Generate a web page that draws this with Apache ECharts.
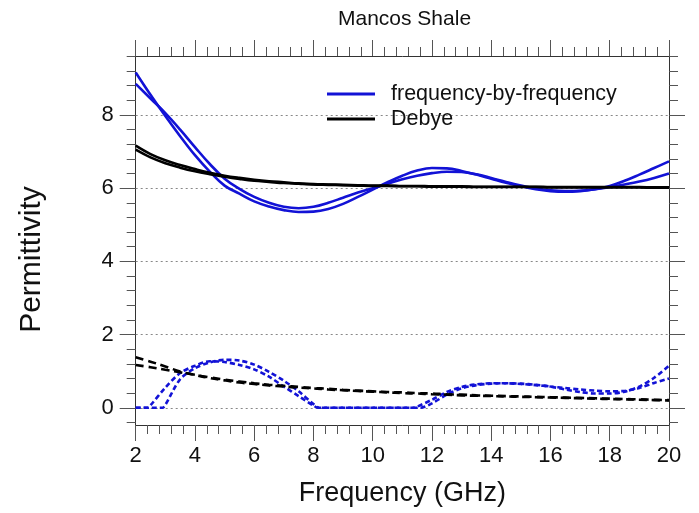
<!DOCTYPE html>
<html>
<head>
<meta charset="utf-8">
<script src="https://cdn.jsdelivr.net/npm/echarts@6/dist/echarts.min.js"></script>
<style>html,body{margin:0;padding:0;background:#fff;}#c{width:699px;height:513px;}</style>
</head>
<body>
<div id="c"></div>
<script>
// frequency grid (GHz)
var freq = [2,2.5,3,3.5,4,4.5,5,5.5,6,6.5,7,7.5,8,8.5,9,9.5,10,10.5,11,11.5,12,12.5,13,13.5,14,14.5,15,15.5,16,16.5,17,17.5,18,18.5,19,19.5,20];
// frequency-by-frequency, real part (two curves)
var fbfRealA = [9.16,8.55,7.97,7.42,6.9,6.45,6.07,5.85,5.64,5.5,5.4,5.35,5.36,5.43,5.57,5.76,5.96,6.16,6.34,6.48,6.55,6.54,6.47,6.37,6.26,6.15,6.05,5.97,5.92,5.9,5.92,5.97,6.06,6.2,6.37,6.55,6.73];
var fbfRealB = [8.85,8.45,8.05,7.6,7.12,6.66,6.26,5.98,5.76,5.6,5.49,5.45,5.49,5.6,5.74,5.88,6.0,6.12,6.24,6.34,6.41,6.45,6.44,6.38,6.28,6.17,6.07,5.99,5.94,5.92,5.93,5.97,6.03,6.1,6.18,6.28,6.4];
// Debye, real part (two curves)
var debyeRealA = [7.16,6.93,6.76,6.63,6.52,6.42,6.34,6.28,6.23,6.19,6.16,6.13,6.11,6.1,6.09,6.08,6.07,6.07,6.06,6.06,6.05,6.05,6.05,6.04,6.04,6.04,6.04,6.04,6.03,6.03,6.03,6.03,6.03,6.03,6.03,6.02,6.02];
var debyeRealB = [7.05,6.84,6.68,6.56,6.46,6.38,6.31,6.25,6.2,6.17,6.14,6.12,6.1,6.09,6.08,6.07,6.06,6.06,6.05,6.05,6.04,6.04,6.04,6.03,6.03,6.03,6.03,6.03,6.02,6.02,6.02,6.02,6.02,6.02,6.02,6.01,6.01];
// Debye, imaginary part (two curves)
var debyeImagA = [1.38,1.26,1.13,0.99,0.9,0.81,0.75,0.69,0.65,0.61,0.58,0.55,0.53,0.5,0.48,0.46,0.44,0.42,0.4,0.39,0.37,0.36,0.34,0.33,0.32,0.31,0.3,0.29,0.28,0.27,0.26,0.25,0.24,0.23,0.22,0.21,0.2];
var debyeImagB = [1.17,1.11,1.04,0.97,0.9,0.83,0.77,0.72,0.67,0.63,0.6,0.57,0.54,0.52,0.49,0.47,0.45,0.43,0.42,0.4,0.39,0.37,0.36,0.34,0.33,0.32,0.31,0.3,0.29,0.28,0.27,0.26,0.25,0.24,0.23,0.22,0.21];
// frequency-by-frequency, imaginary part (two curves, own frequency samples)
var fbfImagFreqA = [2,2.4,2.5,3,3.5,4,4.5,5,5.5,6,6.5,7,7.5,8,8.15,9,10,11,11.4,11.5,12,12.5,13,13.5,14,14.5,15,15.5,16,16.5,17,17.5,18,18.5,19,19.5,20];
var fbfImagA = [0,0,0.07,0.55,0.95,1.15,1.27,1.25,1.17,1.05,0.85,0.58,0.32,0.06,0,0,0,0,0,0.03,0.22,0.43,0.57,0.64,0.67,0.67,0.65,0.62,0.58,0.54,0.5,0.47,0.45,0.46,0.54,0.68,0.8];
var fbfImagFreqB = [2,2.9,3,3.5,4,4.5,5,5.5,6,6.5,7,7.5,8,8.2,9,10,11,11.6,12,12.5,13,13.5,14,14.5,15,15.5,16,16.5,17,17.5,18,18.5,19,19.5,20];
var fbfImagB = [0,0,0.08,0.78,1.08,1.24,1.31,1.29,1.18,0.98,0.74,0.45,0.1,0,0,0,0,0,0.12,0.36,0.53,0.62,0.66,0.67,0.66,0.63,0.58,0.5,0.43,0.39,0.39,0.44,0.58,0.82,1.15];
// axis ticks
var yMajorTicks = [0,2,4,6,8];
var yMinorTicks = [-0.4,0,0.4,0.8,1.2,1.6,2,2.4,2.8,3.2,3.6,4,4.4,4.8,5.2,5.6,6,6.4,6.8,7.2,7.6,8,8.4,8.8,9.2,9.6];

function pairs(xs, ys){ var o=[]; for(var i=0;i<xs.length;i++) o.push([xs[i], ys[i]]); return o; }

var BLUE = '#1212d6', BLACK = '#000000';
var FONT = 'Liberation Sans';
var axisLineStyle = {color:'#333', width:1};
var tickStyle = {color:'#555', width:1};

function xAx(pos, labels){
  return {
    type:'value', position:pos, min:2, max:20, interval:2,
    axisLine:{show:true, onZero:false, lineStyle:axisLineStyle},
    axisTick:{show:true, inside:false, length:16, lineStyle:tickStyle},
    minorTick:{show:true, splitNumber:5, length:9, lineStyle:tickStyle},
    splitLine:{show:false},
    axisLabel:{show:labels, fontSize:22, fontFamily:FONT, color:'#111', margin:20},
    name: labels ? 'Frequency (GHz)' : '',
    nameLocation:'middle', nameGap:55,
    nameTextStyle:{fontSize:27, fontFamily:FONT, color:'#111'}
  };
}
function yAx(pos, ticks, len, labels, split){
  return {
    type:'value', position:pos, min:-0.47, max:9.61, splitNumber:5,
    axisLine:{show:true, onZero:false, lineStyle:axisLineStyle},
    axisTick:{show:true, inside:false, length:len, customValues:ticks, lineStyle:tickStyle},
    axisLabel:{show:labels, customValues:yMajorTicks, fontSize:22, fontFamily:FONT, color:'#111', margin:22},
    splitLine:{show:split, lineStyle:{color:'#888', type:[2,3], width:1}},
    name: labels ? 'Permittivity' : '',
    nameLocation:'middle', nameGap:89,
    nameTextStyle:{fontSize:30, fontFamily:FONT, color:'#111', padding:[0,38,0,0]}
  };
}

function line(name, data, color, dash, smooth){
  return {
    type:'line', name:name, data:data, symbol:'none', smooth:smooth,
    xAxisIndex:0, yAxisIndex:0, animation:false,
    lineStyle:{color:color, width:2.6, type:dash},
    itemStyle:{color:color}
  };
}

var chart = echarts.init(document.getElementById('c'), null, {renderer:'canvas'});
chart.setOption({
  backgroundColor:'#fff',
  animation:false,
  title:{text:'Mancos Shale', left:333, top:4, textStyle:{fontSize:21, fontWeight:'normal', fontFamily:FONT, color:'#111'}},
  grid:{left:135.7, right:30, top:56, bottom:88, containLabel:false},
  legend:{
    orient:'vertical', left:322, top:78, itemWidth:48, itemHeight:3, itemGap:3,
    icon:'rect',
    data:['frequency-by-frequency','Debye'],
    textStyle:{fontSize:21.5, fontFamily:FONT, color:'#111', padding:[0,0,0,11]}
  },
  xAxis:[xAx('bottom', true), xAx('top', false)],
  yAxis:[
    yAx('left', yMajorTicks, 16, true, true),
    yAx('left', yMinorTicks, 9, false, false),
    yAx('right', yMajorTicks, 16, false, false),
    yAx('right', yMinorTicks, 9, false, false)
  ],
  series:[
    line('frequency-by-frequency', pairs(freq, fbfRealA), BLUE, 'solid', 0.4),
    line('frequency-by-frequency', pairs(freq, fbfRealB), BLUE, 'solid', 0.4),
    line('Debye', pairs(freq, debyeRealA), BLACK, 'solid', 0.4),
    line('Debye', pairs(freq, debyeRealB), BLACK, 'solid', 0.4),
    line('fbf imaginary A', pairs(fbfImagFreqA, fbfImagA), BLUE, [5,3], 0.3),
    line('fbf imaginary B', pairs(fbfImagFreqB, fbfImagB), BLUE, [5,3], 0.3),
    line('Debye imaginary A', pairs(freq, debyeImagA), BLACK, [8,5], 0.4),
    line('Debye imaginary B', pairs(freq, debyeImagB), BLACK, [8,5], 0.4)
  ]
});
</script>
</body>
</html>
